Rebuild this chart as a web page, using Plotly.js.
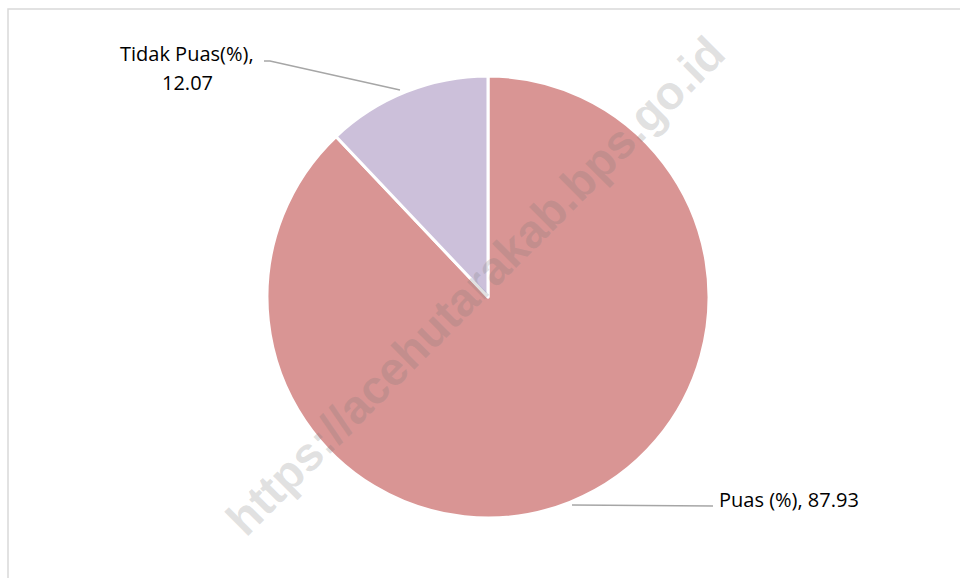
<!DOCTYPE html>
<html>
<head>
<meta charset="utf-8">
<script src="https://cdn.plot.ly/plotly-3.0.1.min.js"></script>
<style>html,body{margin:0;padding:0;background:#fff;}#chart{width:960px;height:578px;}</style>
</head>
<body>
<div id="chart"></div>
<script>
const categories = ["Puas (%)", "Tidak Puas(%)"];
const values = [87.93, 12.07];
const sliceColors = ["#D99594", "#CCC0DA"];
const watermark = "https://acehutarakab.bps.go.id";

const W = 960, H = 578;
const px = x => x / W;
const py = y => 1 - y / H;

// pie geometry (pixels)
const cx = 488, cy = 297, r = 221;

const trace = {
  type: "pie",
  labels: categories,
  values: values,
  sort: false,
  direction: "clockwise",
  rotation: 0,
  textinfo: "none",
  hoverinfo: "label+value",
  marker: { colors: sliceColors, line: { color: "#ffffff", width: 3 } },
  domain: { x: [px(cx - r), px(cx + r)], y: [py(cy + r), py(cy - r)] },
  showlegend: false
};

const labelFont = { family: "Open Sans, Liberation Sans, sans-serif", size: 20, color: "#000000" };

const layout = {
  width: W, height: H,
  margin: { l: 0, r: 0, t: 0, b: 0 },
  paper_bgcolor: "#ffffff",
  showlegend: false,
  shapes: [
    { type: "rect", xref: "paper", yref: "paper", x0: px(8), y0: -0.02, x1: 1.02, y1: py(9),
      line: { color: "#d9d9d9", width: 1.5 }, fillcolor: "rgba(0,0,0,0)", layer: "below" },
    { type: "path", xref: "paper", yref: "paper",
      path: `M ${px(264)} ${py(61)} L ${px(270)} ${py(61)} L ${px(400)} ${py(90)}`,
      line: { color: "#a6a6a6", width: 1.5 } },
    { type: "path", xref: "paper", yref: "paper",
      path: `M ${px(572)} ${py(505)} L ${px(713)} ${py(506)}`,
      line: { color: "#a6a6a6", width: 1.5 } }
  ],
  annotations: [
    { xref: "paper", yref: "paper", x: px(187), y: py(54), text: categories[1] + ",",
      showarrow: false, xanchor: "center", yanchor: "middle", font: labelFont },
    { xref: "paper", yref: "paper", x: px(187), y: py(83), text: values[1].toFixed(2),
      showarrow: false, xanchor: "center", yanchor: "middle", font: labelFont },
    { xref: "paper", yref: "paper", x: px(717), y: py(499), text: categories[0] + ", " + values[0].toFixed(2),
      showarrow: false, xanchor: "left", yanchor: "middle", font: labelFont },
    { xref: "paper", yref: "paper", x: px(475), y: py(285), text: "<b>" + watermark + "</b>",
      showarrow: false, xanchor: "center", yanchor: "middle", textangle: -45,
      font: { family: "Liberation Sans, Arial, sans-serif", size: 47, color: "rgba(120,120,120,0.22)" } }
  ]
};

Plotly.newPlot("chart", [trace], layout, { displayModeBar: false, staticPlot: true });
</script>
</body>
</html>
